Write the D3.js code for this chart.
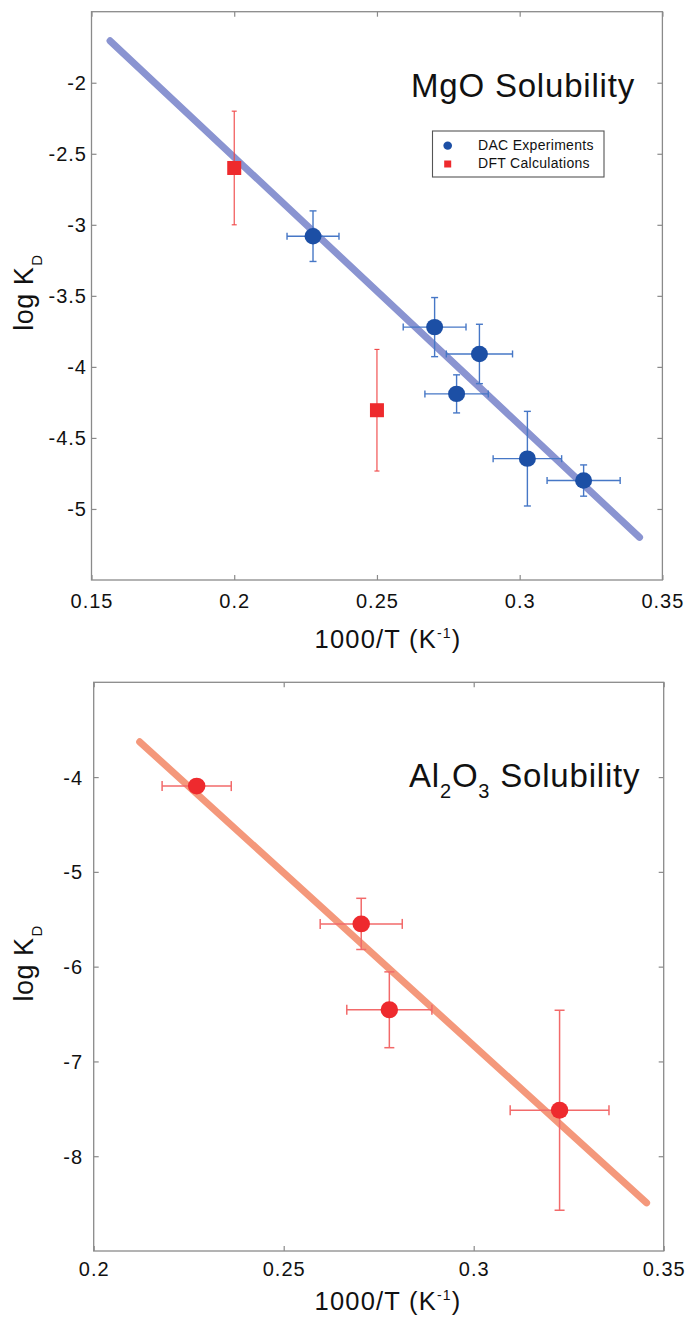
<!DOCTYPE html>
<html>
<head>
<meta charset="utf-8">
<script src="https://cdn.jsdelivr.net/npm/d3@7"></script>
<style>
  html, body { margin: 0; padding: 0; background: #fff; }
  svg { display: block; }
  text { font-family: "Liberation Sans", Arial, Helvetica, sans-serif; fill: #111; }
</style>
</head>
<body>
<svg id="chart" width="690" height="1319"></svg>
<script>
// ---------- DATA: MgO panel ----------
const mgoDacX    = [0.2276, 0.2702, 0.2859, 0.2779, 0.3027, 0.3224];
const mgoDacY    = [-3.08, -3.72, -3.909, -4.19, -4.646, -4.80];
const mgoDacXErr = [0.0091, 0.0110, 0.0116, 0.0111, 0.0120, 0.0128];
const mgoDacYErr = [0.178, 0.208, 0.209, 0.134, 0.333, 0.110];
const mgoDftX    = [0.20, 0.25];
const mgoDftY    = [-2.60, -4.305];
const mgoDftYErr = [0.40, 0.428];
const mgoFitX    = [0.1565, 0.342];
const mgoFitY    = [-1.705, -5.20];
const mgoXTicks  = [0.15, 0.2, 0.25, 0.3, 0.35];
const mgoYTicks  = [-2, -2.5, -3, -3.5, -4, -4.5, -5];
const mgoLegend  = ["DAC Experiments", "DFT Calculations"];

// ---------- DATA: Al2O3 panel ----------
const alX    = [0.2271, 0.2704, 0.2778, 0.3226];
const alY    = [-4.095, -5.549, -6.455, -7.515];
const alXErr = [0.0091, 0.0108, 0.0112, 0.0130];
const alYErr = [0, 0.27, 0.40, 1.055];
const alFitX = [0.2121, 0.3455];
const alFitY = [-3.628, -8.492];
const alXTicks = [0.2, 0.25, 0.3, 0.35];
const alYTicks = [-4, -5, -6, -7, -8];

const svg = d3.select("#chart");
const frameColor = "#8a8a8a";

function drawPanel(p) {
  const g = svg.append("g");
  const x = d3.scaleLinear().domain(p.xDomain).range([p.left, p.right]);
  const y = d3.scaleLinear().domain(p.yDomain).range([p.bottom, p.top]);
  const tl = 5;

  const fmt = d => String(d).replace("−", "-");
  g.append("g").attr("transform", `translate(0,${p.bottom})`)
    .call(d3.axisBottom(x).tickValues(p.xTicks).tickSizeInner(-tl).tickSizeOuter(0).tickFormat(fmt))
    .call(a => { a.select(".domain").remove();
      a.selectAll("line").attr("stroke", frameColor).attr("stroke-width", 1.2);
      a.selectAll("text").attr("dy", null).attr("y", p.xLabelDy)
        .style("font-size", "20px").style("letter-spacing", "1px").style("font-family", "Liberation Sans, Arial, sans-serif").attr("fill", "#222"); });
  g.append("g").attr("transform", `translate(0,${p.top})`)
    .call(d3.axisTop(x).tickValues(p.xTicks).tickSizeInner(-tl).tickSizeOuter(0).tickFormat(""))
    .call(a => { a.select(".domain").remove(); a.selectAll("line").attr("stroke", frameColor).attr("stroke-width", 1.2); });
  g.append("g").attr("transform", `translate(${p.left},0)`)
    .call(d3.axisLeft(y).tickValues(p.yTicks).tickSizeInner(-tl).tickSizeOuter(0).tickFormat(fmt))
    .call(a => { a.select(".domain").remove();
      a.selectAll("line").attr("stroke", frameColor).attr("stroke-width", 1.2);
      a.selectAll("text").attr("x", p.yLabelX - p.left).attr("dy", "0.35em")
        .style("font-size", "20px").style("letter-spacing", "1px").style("font-family", "Liberation Sans, Arial, sans-serif").attr("fill", "#222"); });
  g.append("g").attr("transform", `translate(${p.right},0)`)
    .call(d3.axisRight(y).tickValues(p.yTicks).tickSizeInner(-tl).tickSizeOuter(0).tickFormat(""))
    .call(a => { a.select(".domain").remove(); a.selectAll("line").attr("stroke", frameColor).attr("stroke-width", 1.2); });

  g.append("rect").attr("x", p.left).attr("y", p.top)
    .attr("width", p.right - p.left).attr("height", p.bottom - p.top)
    .attr("fill", "none").attr("stroke", frameColor).attr("stroke-width", 1.3);

  const fit = p.fitX.map((v, i) => [v, p.fitY[i]]);
  g.append("path").datum(fit)
    .attr("d", d3.line().x(d => x(d[0])).y(d => y(d[1])))
    .attr("stroke", p.fitColor).attr("stroke-width", 7).attr("stroke-linecap", "round").attr("fill", "none");

  p.series.forEach(s => {
    const cap = s.cap;
    s.x.forEach((xv, i) => {
      const yv = s.y[i];
      const eg = g.append("g").attr("stroke", s.errColor).attr("stroke-width", s.errWidth).attr("fill", "none");
      if (s.xErr && s.xErr[i] > 0) {
        const x0 = x(xv - s.xErr[i]), x1 = x(xv + s.xErr[i]), yy = y(yv);
        eg.append("line").attr("x1", x0).attr("x2", x1).attr("y1", yy).attr("y2", yy);
        eg.append("line").attr("x1", x0).attr("x2", x0).attr("y1", yy - cap / 2).attr("y2", yy + cap / 2);
        eg.append("line").attr("x1", x1).attr("x2", x1).attr("y1", yy - cap / 2).attr("y2", yy + cap / 2);
      }
      if (s.yErr && s.yErr[i] > 0) {
        const y0 = y(yv - s.yErr[i]), y1 = y(yv + s.yErr[i]), xx = x(xv);
        eg.append("line").attr("x1", xx).attr("x2", xx).attr("y1", y0).attr("y2", y1);
        eg.append("line").attr("x1", xx - cap / 2).attr("x2", xx + cap / 2).attr("y1", y0).attr("y2", y0);
        eg.append("line").attr("x1", xx - cap / 2).attr("x2", xx + cap / 2).attr("y1", y1).attr("y2", y1);
      }
    });
    s.x.forEach((xv, i) => {
      const cx = x(xv), cy = y(s.y[i]);
      if (s.shape === "circle") {
        g.append("ellipse").attr("cx", cx).attr("cy", cy).attr("rx", s.size / 2).attr("ry", s.size / 2 - 0.3).attr("fill", s.color);
      } else {
        g.append("rect").attr("x", cx - s.size / 2).attr("y", cy - s.size / 2)
          .attr("width", s.size).attr("height", s.size).attr("fill", s.color);
      }
    });
  });

  const t = g.append("text").attr("x", p.titleX).attr("y", p.titleY)
    .style("font-size", "33px").style("letter-spacing", "0.8px");
  p.title.forEach(part => {
    if (part.sub) t.append("tspan").text(part.text).attr("dy", 11).style("font-size", "20px");
    else t.append("tspan").text(part.text).attr("dy", part.after ? -11 : 0);
  });

  const xt = g.append("text").attr("x", p.xTitleX).attr("y", p.xTitleY).attr("text-anchor", "middle")
    .style("font-size", "25.5px").style("letter-spacing", "1.2px").attr("fill", "#222");
  xt.append("tspan").text("1000/T (K");
  xt.append("tspan").text("-1").attr("dy", -10).style("font-size", "14px");
  xt.append("tspan").text(")").attr("dy", 10);

  const cy = (p.top + p.bottom) / 2 - 3;
  const yt = g.append("text").attr("transform", `translate(33,${cy}) rotate(-90)`).attr("text-anchor", "middle")
    .style("font-size", "27px").style("letter-spacing", "0.5px");
  yt.append("tspan").text("log K");
  yt.append("tspan").text("D").attr("dy", 9).style("font-size", "15px").style("letter-spacing", "0px").attr("dx", 1);

  return { g, x, y };
}

const topPanel = drawPanel({
  left: 91.5, right: 662.4, top: 11.7, bottom: 580,
  xDomain: [0.15, 0.35], yDomain: [-5.5, -1.5],
  xTicks: mgoXTicks, yTicks: mgoYTicks,
  xLabelDy: 28, yLabelX: 87,
  fitX: mgoFitX, fitY: mgoFitY, fitColor: "#8a94d1",
  series: [
    { x: mgoDftX, y: mgoDftY, yErr: mgoDftYErr, shape: "square", size: 14, color: "#ee2a2d", errColor: "#f04444", errWidth: 1.1, cap: 5 },
    { x: mgoDacX, y: mgoDacY, xErr: mgoDacXErr, yErr: mgoDacYErr, shape: "circle", size: 17, color: "#1c4fa5", errColor: "#4677c6", errWidth: 1.4, cap: 7 }
  ],
  title: [{ text: "MgO Solubility" }], titleX: 411, titleY: 97,
  xTitleX: 388, xTitleY: 648
});

const lg = topPanel.g.append("g");
lg.append("rect").attr("x", 432.5).attr("y", 131).attr("width", 171.5).attr("height", 46)
  .attr("fill", "#fff").attr("stroke", "#555").attr("stroke-width", 1.1);
lg.append("ellipse").attr("cx", 447.7).attr("cy", 145.7).attr("rx", 4.3).attr("ry", 4.1).attr("fill", "#1c4fa5");
lg.append("rect").attr("x", 444.2).attr("y", 160.5).attr("width", 7).attr("height", 7).attr("fill", "#ee2a2d");
lg.selectAll("text.leg").data(mgoLegend).join("text").attr("class", "leg")
  .attr("x", 478).attr("y", (d, i) => 150 + i * 18.3)
  .style("font-size", "14px").style("letter-spacing", "0.3px").attr("fill", "#222").text(d => d);

drawPanel({
  left: 93.7, right: 663.7, top: 682.3, bottom: 1251,
  xDomain: [0.2, 0.35], yDomain: [-9, -3],
  xTicks: alXTicks, yTicks: alYTicks,
  xLabelDy: 25, yLabelX: 83,
  fitX: alFitX, fitY: alFitY, fitColor: "#f4987b",
  series: [
    { x: alX, y: alY, xErr: alXErr, yErr: alYErr, shape: "circle", size: 17.5, color: "#ee2a2e", errColor: "#f26a6a", errWidth: 1.5, cap: 10 }
  ],
  title: [{ text: "Al" }, { text: "2", sub: true }, { text: "O", after: true }, { text: "3", sub: true }, { text: " Solubility", after: true }],
  titleX: 409, titleY: 787,
  xTitleX: 388, xTitleY: 1310
});
</script>
</body>
</html>
